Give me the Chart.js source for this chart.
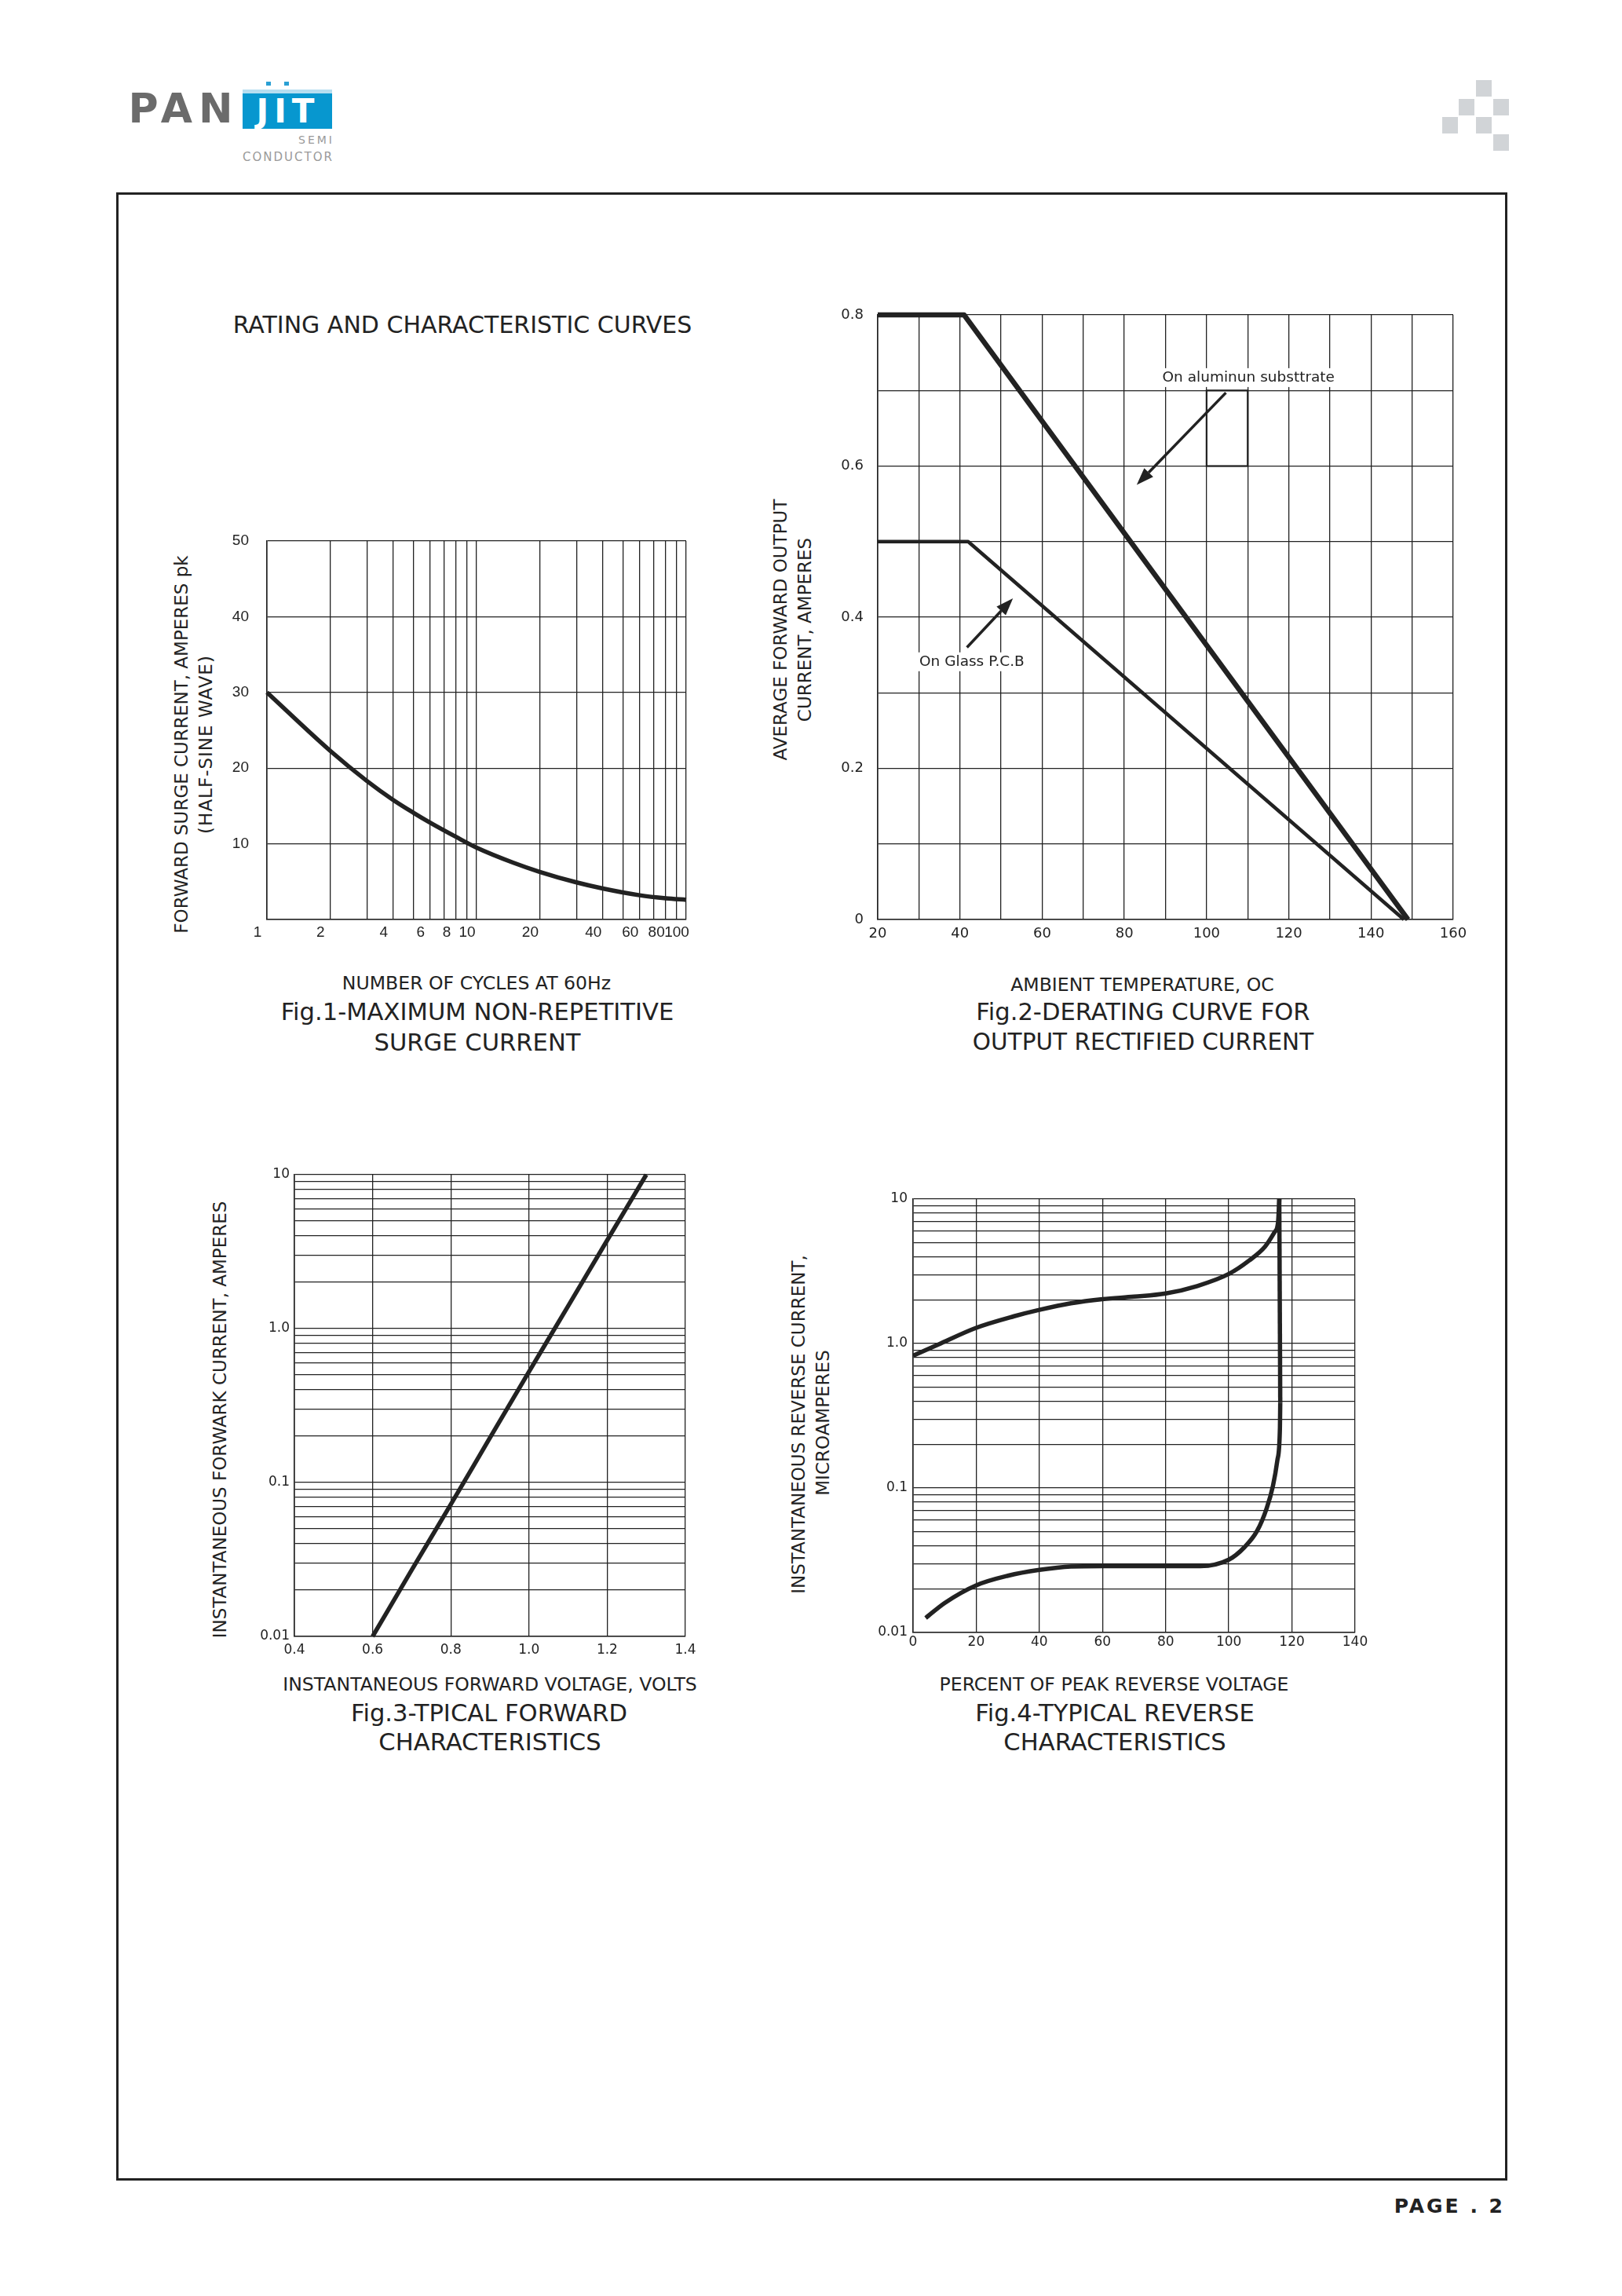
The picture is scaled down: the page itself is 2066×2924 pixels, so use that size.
<!DOCTYPE html>
<html>
<head>
<meta charset="utf-8">
<title>Rating and characteristic curves</title>
<script src="https://cdn.jsdelivr.net/npm/chart.js@4.4.1/dist/chart.umd.min.js"></script>
<style>
  body { margin: 0; background: #fff; }
  #page { position: relative; width: 2066px; height: 2924px; background: #fff; overflow: hidden;
          font-family: "DejaVu Sans", sans-serif; color: #222; }
  .t { position: absolute; white-space: nowrap; line-height: 1; transform: translate(-50%, -50%); }
  .v { position: absolute; white-space: nowrap; line-height: 1; font-size: 23px;
       transform: translate(-50%, -50%) rotate(-90deg); }
  .xt { font-size: 23.6px; }
  .cap { font-size: 30.6px; }
  .sq { position: absolute; width: 20px; height: 21px; background: #d1d4d7; }
  canvas { position: absolute; }
</style>
</head>
<body>
<div id="page">
  <!-- logo -->
  <div class="t" style="left:234px;top:138px;font-size:52px;font-weight:bold;color:#6b6b6b;letter-spacing:8px;">PAN</div>
  <div style="position:absolute;left:309px;top:114px;width:114px;height:5px;background:#b6def0;"></div>
  <div style="position:absolute;left:309px;top:119px;width:114px;height:45px;background:#0797cf;"></div>
  <div style="position:absolute;left:339px;top:104px;width:6px;height:5px;background:#2aa0d4;"></div>
  <div style="position:absolute;left:362px;top:104px;width:6px;height:5px;background:#2aa0d4;"></div>
  <div class="t" style="left:367px;top:142px;font-size:42px;font-weight:bold;color:#fff;letter-spacing:7px;">JIT</div>
  <div class="t" style="left:403px;top:178px;font-size:14px;color:#9a9a9a;letter-spacing:3px;">SEMI</div>
  <div class="t" style="left:367px;top:200px;font-size:15px;color:#9a9a9a;letter-spacing:2px;">CONDUCTOR</div>

  <div class="sq" style="left:1880px;top:102px;"></div>
  <div class="sq" style="left:1858px;top:126px;"></div>
  <div class="sq" style="left:1902px;top:126px;"></div>
  <div class="sq" style="left:1837px;top:149px;"></div>
  <div class="sq" style="left:1880px;top:149px;"></div>
  <div class="sq" style="left:1902px;top:171px;"></div>

  <!-- frame -->
  <div style="position:absolute;left:148px;top:245px;width:1772px;height:2532px;border:3px solid #222;box-sizing:border-box;"></div>

  <div class="t" style="left:589px;top:414px;font-size:30px;">RATING AND CHARACTERISTIC CURVES</div>

  <!-- Fig.1 texts -->
  <div class="v" style="left:231px;top:948px;">FORWARD SURGE CURRENT, AMPERES pk</div>
  <div class="v" style="left:262px;top:948px;letter-spacing:1px;">(HALF-SINE WAVE)</div>
  <div class="t xt" style="left:607px;top:1253px;">NUMBER OF CYCLES AT 60Hz</div>
  <div class="t cap" style="left:608px;top:1289px;">Fig.1-MAXIMUM NON-REPETITIVE</div>
  <div class="t cap" style="left:608px;top:1328px;">SURGE CURRENT</div>

  <!-- Fig.2 texts -->
  <div class="v" style="left:994px;top:802px;">AVERAGE FORWARD OUTPUT</div>
  <div class="v" style="left:1025px;top:802px;">CURRENT, AMPERES</div>
  <div class="t xt" style="left:1455px;top:1255px;">AMBIENT TEMPERATURE, OC</div>
  <div class="t cap" style="left:1456px;top:1289px;">Fig.2-DERATING CURVE FOR</div>
  <div class="t cap" style="left:1456px;top:1328px;font-size:29.5px;">OUTPUT RECTIFIED CURRENT</div>

  <!-- Fig.3 texts -->
  <div class="v" style="left:280px;top:1808px;">INSTANTANEOUS FORWARK CURRENT, AMPERES</div>
  <div class="t xt" style="left:624px;top:2146px;">INSTANTANEOUS FORWARD VOLTAGE, VOLTS</div>
  <div class="t cap" style="left:623px;top:2182px;">Fig.3-TPICAL FORWARD</div>
  <div class="t cap" style="left:624px;top:2219px;">CHARACTERISTICS</div>

  <!-- Fig.4 texts -->
  <div class="v" style="left:1017px;top:1814px;">INSTANTANEOUS REVERSE CURRENT,</div>
  <div class="v" style="left:1048px;top:1812px;">MICROAMPERES</div>
  <div class="t xt" style="left:1419px;top:2146px;">PERCENT OF PEAK REVERSE VOLTAGE</div>
  <div class="t cap" style="left:1420px;top:2182px;">Fig.4-TYPICAL REVERSE</div>
  <div class="t cap" style="left:1420px;top:2219px;">CHARACTERISTICS</div>

  <div style="position:absolute;right:149px;top:2809px;transform:translateY(-50%);font-size:25px;font-weight:bold;letter-spacing:3px;line-height:1;">PAGE . 2</div>

  <canvas id="fig1"></canvas>
  <canvas id="fig2"></canvas>
  <canvas id="fig3"></canvas>
  <canvas id="fig4"></canvas>
</div>

<script>
// Fig.1 - surge current vs number of cycles
const cyclesGrid = [1, 2, 3, 4, 5, 6, 7, 8, 9, 10, 20, 30, 40, 50, 60, 70, 80, 90, 100];
const cyclesShown = [1, 2, 4, 6, 8, 10, 20, 40, 60, 80, 100];
const surgeGrid = [0, 10, 20, 30, 40, 50];
const surgeLabels = ["", "10", "20", "30", "40", "50"];
const surgeCycles = [1, 2, 3, 4, 5, 6, 8, 10, 15, 20, 30, 40, 60, 80, 100];
const surgeAmps = [30, 22.3, 18.3, 15.8, 14.1, 12.8, 10.9, 9.5, 7.5, 6.3, 4.9, 4.1, 3.2, 2.8, 2.6];

// Fig.2 - derating curves
const tempGrid = [20, 30, 40, 50, 60, 70, 80, 90, 100, 110, 120, 130, 140, 150, 160];
const ioGrid = [0, 0.1, 0.2, 0.3, 0.4, 0.5, 0.6, 0.7, 0.8];
const ioLabels = ["0", "", "0.2", "", "0.4", "", "0.6", "", "0.8"];
const tempAlu = [20, 41, 149];
const ioAlu = [0.8, 0.8, 0];
const tempGlass = [20, 42, 148];
const ioGlass = [0.5, 0.5, 0];
const noteAlu = { text: "On aluminun substtrate", x: 110.2, y: 0.717 };
const noteGlass = { text: "On Glass P.C.B", x: 42.9, y: 0.341 };
const arrowAlu = [[104.7, 0.697], [83.0, 0.575]];
const arrowGlass = [[41.7, 0.36], [52.9, 0.425]];
const markBox = [[100, 0.7], [110, 0.6]];

// Fig.3 - forward characteristics
const vfGrid = [0.4, 0.6, 0.8, 1.0, 1.2, 1.4];
const vfLabels = ["0.4", "0.6", "0.8", "1.0", "1.2", "1.4"];
const vf = [0.6, 0.7, 0.8, 0.9, 1.0, 1.1, 1.2, 1.3];
const ifwd = [0.01, 0.027, 0.072, 0.195, 0.525, 1.4, 3.75, 10];

// Fig.4 - reverse characteristics
const pctGrid = [0, 20, 40, 60, 80, 100, 120, 140];
const pctUpper = [0, 8, 20, 32, 40, 50, 60, 70, 80, 90, 100, 106.5, 111.5, 114.5, 115.6, 116];
const irUpper = [0.823, 0.985, 1.285, 1.545, 1.71, 1.9, 2.03, 2.11, 2.22, 2.5, 3.03, 3.76, 4.69, 5.9, 6.89, 10];
const pctLower = [4, 10, 20, 30, 40, 50, 60, 70, 80, 91, 100, 105, 109, 112, 114, 115.4, 116.2, 116.3];
const irLower = [0.0126, 0.016, 0.0212, 0.0247, 0.0271, 0.0286, 0.0288, 0.0288, 0.0288, 0.0288, 0.0319, 0.039, 0.0506, 0.0724, 0.1037, 0.156, 0.26, 0.39];
const pctRise = [116.3, 116];
const irRise = [0.39, 10];

// log grid shared by fig 3 and 4
const logGrid = [];
[0.01, 0.1, 1].forEach(d => {
  for (let k = 1; k <= 9; k++) logGrid.push(+(d * k).toPrecision(3));
});
logGrid.push(10);
const decadeLabels = { 0.01: "0.01", 0.1: "0.1", 1: "1.0", 10: "10" };

const INK = "#222";
const gridStyle = { color: INK, lineWidth: 1.3, drawTicks: false };
const borderStyle = { color: INK, width: 1.6 };

const setTicks = vals => s => { s.ticks = vals.map(v => ({ value: v })); };
const fixed = (dim, size) => s => { s[dim] = size; };

function curve(xs, ys, width, extra) {
  return Object.assign({
    data: xs.map((x, i) => ({ x, y: ys[i] })),
    showLine: true,
    pointRadius: 0,
    borderColor: INK,
    borderWidth: width,
    clip: false,
    borderJoinStyle: "round",
  }, extra || {});
}

function axis(type, min, max, grid, fitDim, fitSize, tickOpts) {
  return {
    type, min, max,
    afterBuildTicks: setTicks(grid),
    afterFit: fixed(fitDim, fitSize),
    grid: gridStyle,
    border: borderStyle,
    ticks: Object.assign({ color: INK, autoSkip: false, maxRotation: 0 }, tickOpts),
  };
}

function makeChart(id, box, pad, datasets, scales, plugins) {
  const cv = document.getElementById(id);
  cv.width = box[2];
  cv.height = box[3];
  cv.style.left = box[0] + "px";
  cv.style.top = box[1] + "px";
  return new Chart(cv.getContext("2d"), {
    type: "scatter",
    data: { datasets },
    options: {
      responsive: false,
      animation: false,
      events: [],
      layout: { padding: pad },
      plugins: { legend: { display: false }, tooltip: { enabled: false } },
      scales,
    },
    plugins: plugins || [],
  });
}

// arrows, labels and the small box on fig 2
const notes = {
  id: "notes",
  afterDatasetsDraw(chart) {
    const { ctx, scales: { x, y } } = chart;
    const px = p => [x.getPixelForValue(p[0]), y.getPixelForValue(p[1])];
    ctx.save();
    ctx.strokeStyle = INK;
    ctx.fillStyle = INK;

    const a = px(markBox[0]), b = px(markBox[1]);
    ctx.lineWidth = 2.2;
    ctx.strokeRect(a[0], a[1], b[0] - a[0], b[1] - a[1]);

    [arrowAlu, arrowGlass].forEach(ar => {
      const [t, h] = ar.map(px);
      const ang = Math.atan2(h[1] - t[1], h[0] - t[0]);
      const len = 22, half = 8;
      const bx = h[0] - len * Math.cos(ang), by = h[1] - len * Math.sin(ang);
      ctx.lineWidth = 3.5;
      ctx.beginPath();
      ctx.moveTo(t[0], t[1]);
      ctx.lineTo(bx, by);
      ctx.stroke();
      ctx.beginPath();
      ctx.moveTo(h[0], h[1]);
      ctx.lineTo(bx + half * Math.sin(ang), by - half * Math.cos(ang));
      ctx.lineTo(bx - half * Math.sin(ang), by + half * Math.cos(ang));
      ctx.closePath();
      ctx.fill();
    });

    ctx.font = '18.5px "DejaVu Sans"';
    ctx.textAlign = "center";
    ctx.textBaseline = "middle";
    [noteAlu, noteGlass].forEach(n => {
      const [cx, cy] = px([n.x, n.y]);
      const w = ctx.measureText(n.text).width;
      ctx.fillStyle = "#fff";
      ctx.fillRect(cx - w / 2 - 6, cy - 12, w + 12, 24);
      ctx.fillStyle = INK;
      ctx.fillText(n.text, cx, cy);
    });
    ctx.restore();
  },
};

const narrow = { family: "'Liberation Sans Narrow', 'Liberation Sans', sans-serif", size: 19 };
const plain18 = { family: "'DejaVu Sans'", size: 18 };
const plain17 = { family: "'DejaVu Sans'", size: 17 };

// Fig.1
makeChart("fig1", [280, 650, 634, 571], { top: 39, right: 40, left: 0, bottom: 0 },
  [curve(surgeCycles, surgeAmps, 5.5, { cubicInterpolationMode: "monotone" })],
  {
    x: axis("logarithmic", 1, 100, cyclesGrid, "height", 50, {
      font: narrow, padding: 5, labelOffset: -12,
      callback: v => (cyclesShown.includes(v) ? String(v) : ""),
    }),
    y: axis("linear", 0, 50, surgeGrid, "width", 60, {
      font: narrow, padding: 23,
      callback: (v, i) => surgeLabels[i],
    }),
  });

// Fig.2
makeChart("fig2", [1040, 370, 851, 846], { top: 31, right: 40, left: 0, bottom: 0 },
  [curve(tempAlu, ioAlu, 6.5), curve(tempGlass, ioGlass, 4.5)],
  {
    x: axis("linear", 20, 160, tempGrid, "height", 45, {
      font: plain18, padding: 8,
      callback: v => (v % 20 === 0 ? String(v) : ""),
    }),
    y: axis("linear", 0, 0.8, ioGrid, "width", 78, {
      font: plain18, padding: 18,
      callback: (v, i) => ioLabels[i],
    }),
  }, [notes]);

// Fig.3
makeChart("fig3", [300, 1470, 613, 654], { top: 26, right: 40, left: 0, bottom: 0 },
  [curve(vf, ifwd, 5.5, { cubicInterpolationMode: "monotone" })],
  {
    x: axis("linear", 0.4, 1.4, vfGrid, "height", 40, {
      font: plain17, padding: 7,
      callback: (v, i) => vfLabels[i],
    }),
    y: axis("logarithmic", 0.01, 10, logGrid, "width", 75, {
      font: plain17, padding: 6,
      callback: v => decadeLabels[v] || "",
    }),
  });

// Fig.4
makeChart("fig4", [1090, 1500, 676, 619], { top: 27, right: 40, left: 0, bottom: 0 },
  [
    curve(pctUpper, irUpper, 5.5, { cubicInterpolationMode: "monotone" }),
    curve(pctLower, irLower, 5.5, { cubicInterpolationMode: "monotone" }),
    curve(pctRise, irRise, 5.5),
  ],
  {
    x: axis("linear", 0, 140, pctGrid, "height", 40, {
      font: plain17, padding: 2,
      callback: v => String(v),
    }),
    y: axis("logarithmic", 0.01, 10, logGrid, "width", 73, {
      font: plain17, padding: 7,
      callback: v => decadeLabels[v] || "",
    }),
  });
</script>
</body>
</html>
